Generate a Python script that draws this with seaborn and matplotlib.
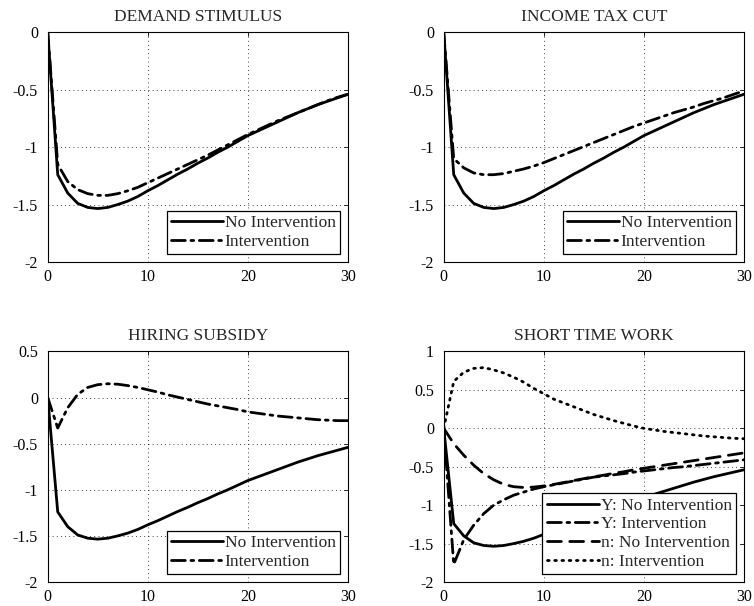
import numpy as np
import pandas as pd
import matplotlib
matplotlib.use('Agg')
import matplotlib.pyplot as plt
import seaborn as sns

# quarters after the shock
t = np.arange(31)

# output response without any policy (same in every panel)
y_no_int = [0, -1.24, -1.40, -1.49, -1.525, -1.535, -1.525, -1.50, -1.47, -1.43,
            -1.38, -1.335, -1.285, -1.235, -1.19, -1.14, -1.095, -1.045, -1.00, -0.95,
            -0.90, -0.86, -0.82, -0.78, -0.74, -0.70, -0.665, -0.63, -0.60, -0.57, -0.54]

y_demand = [0, -1.15, -1.30, -1.37, -1.405, -1.42, -1.42, -1.405, -1.38, -1.35,
            -1.31, -1.27, -1.23, -1.19, -1.15, -1.11, -1.07, -1.025, -0.98, -0.935,
            -0.89, -0.85, -0.81, -0.77, -0.735, -0.70, -0.665, -0.63, -0.595, -0.565, -0.54]

y_tax = [0, -1.10, -1.18, -1.225, -1.24, -1.24, -1.23, -1.21, -1.19, -1.165,
         -1.135, -1.10, -1.065, -1.03, -0.995, -0.96, -0.925, -0.89, -0.855, -0.82,
         -0.79, -0.76, -0.73, -0.70, -0.675, -0.65, -0.62, -0.595, -0.57, -0.54, -0.51]

y_hiring = [0, -0.33, -0.11, 0.035, 0.11, 0.14, 0.15, 0.145, 0.13, 0.11,
            0.085, 0.06, 0.03, 0.005, -0.02, -0.045, -0.07, -0.09, -0.11, -0.13,
            -0.155, -0.17, -0.185, -0.20, -0.21, -0.22, -0.23, -0.24, -0.245, -0.25, -0.25]

y_stw = [0, -1.77, -1.45, -1.26, -1.11, -1.00, -0.93, -0.87, -0.83, -0.79,
         -0.76, -0.735, -0.71, -0.685, -0.66, -0.635, -0.62, -0.605, -0.59, -0.57,
         -0.555, -0.54, -0.525, -0.51, -0.50, -0.485, -0.47, -0.455, -0.44, -0.425, -0.41]

n_no_int = [0, -0.20, -0.35, -0.48, -0.59, -0.67, -0.73, -0.76, -0.77, -0.765,
            -0.75, -0.73, -0.705, -0.68, -0.655, -0.63, -0.61, -0.585, -0.565, -0.54,
            -0.52, -0.50, -0.48, -0.46, -0.44, -0.42, -0.40, -0.38, -0.36, -0.34, -0.32]

n_stw = [0, 0.61, 0.73, 0.78, 0.79, 0.76, 0.72, 0.665, 0.60, 0.52,
         0.45, 0.38, 0.33, 0.28, 0.23, 0.18, 0.14, 0.10, 0.065, 0.03,
         0.0, -0.02, -0.04, -0.055, -0.07, -0.085, -0.10, -0.11, -0.12, -0.13, -0.135]

titles = ['DEMAND STIMULUS', 'INCOME TAX CUT', 'HIRING SUBSIDY', 'SHORT TIME WORK']

sns.set_style('white')
plt.rcParams['font.family'] = ['Liberation Serif', 'DejaVu Serif']
plt.rcParams['axes.unicode_minus'] = False

fig = plt.figure(figsize=(7.54, 6.06), dpi=100)
w = 0.398
boxes = [[0.0633, 0.5677, w, 0.379], [0.5885, 0.5677, w, 0.379],
         [0.0633, 0.0396, w, 0.3804], [0.5885, 0.0396, w, 0.3804]]
axes = [fig.add_axes(b) for b in boxes]

lw = 2.0
dashdot = (0, (5, 2, 1, 2))
panels = [
    [(y_no_int, '-', 'No Intervention'), (y_demand, dashdot, 'Intervention')],
    [(y_no_int, '-', 'No Intervention'), (y_tax, dashdot, 'Intervention')],
    [(y_no_int, '-', 'No Intervention'), (y_hiring, dashdot, 'Intervention')],
    [(y_no_int, '-', 'Y: No Intervention'), (y_stw, dashdot, 'Y: Intervention'),
     (n_no_int, (0, (5, 3)), 'n: No Intervention'), (n_stw, (0, (0.6, 2)), 'n: Intervention')],
]
ylims = [(-2, 0), (-2, 0), (-2, 0.5), (-2, 1)]

for ax, title, series, ylim in zip(axes, titles, panels, ylims):
    for vals, ls, lab in series:
        df = pd.DataFrame({'t': t, 'v': vals})
        sns.lineplot(data=df, x='t', y='v', ax=ax, color='black', linestyle=ls,
                     linewidth=lw, label=lab, dash_capstyle='round')
    ax.set_xlim(0, 30)
    ax.set_ylim(*ylim)
    ax.set_xticks([0, 10, 20, 30])
    ticks = np.arange(ylim[0], ylim[1] + 0.01, 0.5)
    ax.set_yticks(ticks)
    ax.set_yticklabels(['%g' % v for v in ticks])
    ax.set_xlabel('')
    ax.set_ylabel('')
    ax.set_title(title, fontsize=12.5, pad=8)
    ax.grid(True, color='black', linestyle=(0, (1, 4)), linewidth=0.6)
    ax.tick_params(direction='in', length=3, width=0.6, top=True, right=True,
                   labelsize=11.5, colors='black')
    ax.tick_params(axis='y', pad=7)
    ax.tick_params(axis='x', pad=5)
    for sp in ax.spines.values():
        sp.set_color('black')
        sp.set_linewidth(0.8)
    leg = ax.legend(loc='lower right', fontsize=12.5, frameon=True, fancybox=False,
                    framealpha=1, edgecolor='black', borderaxespad=0.45,
                    handlelength=3, handletextpad=0.1, borderpad=0.25, labelspacing=0.15)
    leg.get_frame().set_linewidth(0.9)

fig.savefig('out.png', dpi=100)
